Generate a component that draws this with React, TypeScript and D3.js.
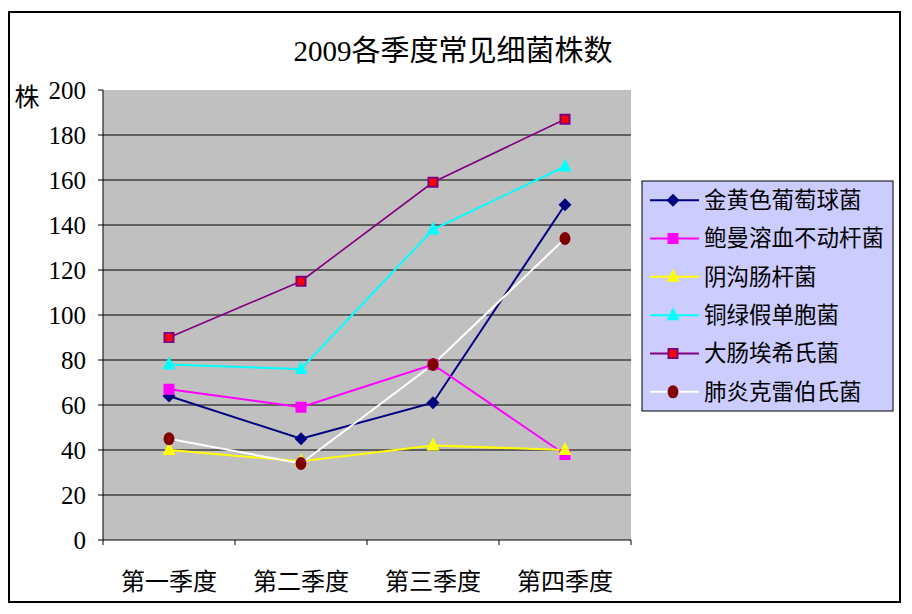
import React from 'react';
import * as d3 from 'd3';

const quarters = ['第一季度', '第二季度', '第三季度', '第四季度'];
const yTicks = [0, 20, 40, 60, 80, 100, 120, 140, 160, 180, 200];

const staph = [64, 45, 61, 149];
const acinetobacter = [67, 59, 78, 38];
const enterobacter = [40, 35, 42, 40];
const pseudomonas = [78, 76, 138, 166];
const ecoli = [90, 115, 159, 187];
const klebsiella = [45, 34, 78, 134];

const seriesNames = ['金黄色葡萄球菌', '鲍曼溶血不动杆菌', '阴沟肠杆菌', '铜绿假单胞菌', '大肠埃希氏菌', '肺炎克雷伯氏菌'];
const seriesValues = [staph, acinetobacter, enterobacter, pseudomonas, ecoli, klebsiella];

type Style = { line: string; marker: 'diamond' | 'square' | 'triangle' | 'circle'; fill: string; stroke: string; width: number };
const styles: Style[] = [
  { line: '#000080', marker: 'diamond', fill: '#000080', stroke: '#000080', width: 2 },
  { line: '#FF00FF', marker: 'square', fill: '#FF00FF', stroke: '#FF00FF', width: 2 },
  { line: '#FFFF00', marker: 'triangle', fill: '#FFFF00', stroke: '#FFFF00', width: 2 },
  { line: '#00FFFF', marker: 'triangle', fill: '#00FFFF', stroke: '#00FFFF', width: 2 },
  { line: '#800080', marker: 'square', fill: '#FF0000', stroke: '#800080', width: 1.6 },
  { line: '#FFFFFF', marker: 'circle', fill: '#800000', stroke: '#800000', width: 2 },
];

const CJK = '"Noto Sans CJK SC", "Noto Sans", sans-serif';
const SERIF = '"Liberation Serif"';

const Marker: React.FC<{ s: Style; x: number; y: number }> = ({ s, x, y }) => {
  if (s.marker === 'diamond') {
    const r = 6.5;
    return <path d={`M${x},${y - r}L${x + r},${y}L${x},${y + r}L${x - r},${y}Z`} fill={s.fill} />;
  }
  if (s.marker === 'square') {
    if (s.stroke !== s.fill) {
      return <rect x={x - 4.5} y={y - 4.5} width={9} height={9} fill={s.fill} stroke={s.stroke} strokeWidth={2} />;
    }
    return <rect x={x - 5.5} y={y - 5.5} width={11} height={11} fill={s.fill} />;
  }
  if (s.marker === 'triangle') {
    return <path d={`M${x},${y - 8}L${x + 6.5},${y + 5}L${x - 6.5},${y + 5}Z`} fill={s.fill} />;
  }
  return <ellipse cx={x} cy={y} rx={5.5} ry={6.5} fill={s.fill} />;
};

export default function App() {
  const left = 103, right = 631, top = 90, bottom = 540;
  const x = d3.scaleBand<string>().domain(quarters).range([left, right]);
  const y = d3.scaleLinear().domain([0, 200]).range([bottom, top]);
  const cx = (q: string) => (x(q) || 0) + x.bandwidth() / 2;
  const line = d3.line<number>().x((_, i) => cx(quarters[i])).y(d => y(d));
  const bounds = [...quarters.map(q => x(q) || 0), right];

  const legX = 642, legY = 181, legW = 251, legH = 230;
  const rowH = legH / seriesNames.length;

  return (
    <svg width={912} height={614} style={{ position: 'absolute', left: 0, top: 0, background: '#fff' }}>
      <rect x={9} y={12} width={891} height={590} fill="#fff" stroke="#000" strokeWidth={2} />
      <text x={453} y={61} textAnchor="middle"
        style={{ fontSize: 29, fontFamily: `"Liberation Serif", ${CJK}` }} fill="#000">2009各季度常见细菌株数</text>

      <rect x={left} y={top} width={right - left} height={bottom - top} fill="#C0C0C0" />
      {yTicks.filter(t => t > 0 && t < 200).map(t => (
        <line key={t} x1={left} x2={right} y1={y(t)} y2={y(t)} stroke="#000" strokeWidth={1} />
      ))}
      <line x1={left} x2={left} y1={top} y2={bottom} stroke="#000" strokeWidth={1} />
      <line x1={left} x2={right} y1={bottom} y2={bottom} stroke="#000" strokeWidth={1} />
      {yTicks.map(t => (
        <g key={t}>
          <line x1={left - 5} x2={left} y1={y(t)} y2={y(t)} stroke="#000" />
          <text x={86} y={y(t)} dy="0.35em" textAnchor="end" style={{ fontSize: 25, fontFamily: SERIF }} fill="#000">{t}</text>
        </g>
      ))}
      <text x={27} y={97} dy="0.35em" textAnchor="middle" style={{ fontSize: 25, fontFamily: CJK }} fill="#000">株</text>
      {bounds.map((b, i) => (
        <line key={i} x1={b} x2={b} y1={bottom} y2={bottom + 5} stroke="#000" />
      ))}
      {quarters.map(q => (
        <text key={q} x={cx(q)} y={582} dy="0.35em" textAnchor="middle" style={{ fontSize: 24, fontFamily: CJK }} fill="#000">{q}</text>
      ))}

      {seriesValues.map((vals, si) => (
        <path key={si} d={line(vals) || ''} fill="none" stroke={styles[si].line} strokeWidth={styles[si].width} />
      ))}
      {seriesValues.map((vals, si) => (
        <g key={si}>
          {vals.map((v, i) => <Marker key={i} s={styles[si]} x={cx(quarters[i])} y={y(v)} />)}
        </g>
      ))}

      <rect x={legX} y={legY} width={legW} height={legH} fill="#CCCCFF" stroke="#000" strokeWidth={1} />
      {seriesNames.map((n, i) => {
        const ry = legY + rowH * (i + 0.5);
        return (
          <g key={n}>
            <line x1={650} x2={699} y1={ry} y2={ry} stroke={styles[i].line} strokeWidth={2} />
            <Marker s={styles[i]} x={673} y={ry} />
            <text x={704} y={ry} dy="0.35em" style={{ fontSize: 22.5, fontFamily: CJK }} fill="#000">{n}</text>
          </g>
        );
      })}
    </svg>
  );
}
